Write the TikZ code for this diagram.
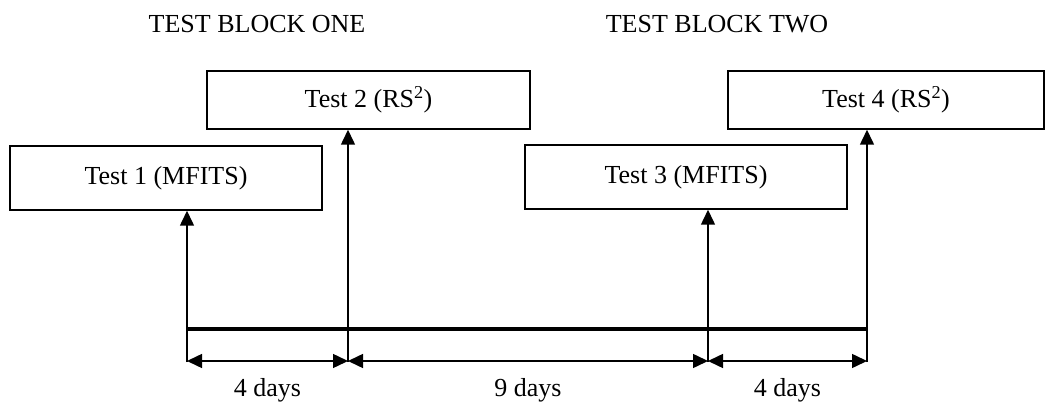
\documentclass[tikz,border=0pt]{standalone}
\usepackage{fontspec}
\setmainfont{Liberation Serif}
\usetikzlibrary{arrows.meta}
\begin{document}
\begin{tikzpicture}[x=1pt,y=1pt,
  testbox/.style={draw=black, line width=1.5pt, minimum width=#1, inner sep=0pt, font=\fontsize{26}{30}\selectfont},
  lbl/.style={font=\fontsize{26}{30}\selectfont, inner sep=0pt},
  tip/.style={-{Triangle[length=15pt,width=14pt]}, line width=1.5pt},
  dim/.style={{Triangle[length=15pt,width=14pt]}-{Triangle[length=15pt,width=14pt]}, line width=1.5pt, shorten <=0pt, shorten >=0pt}]
\useasboundingbox (0,0) rectangle (1046,407);
% headers
\node[lbl] (h1) at (257,383) {TEST BLOCK ONE};
\node[lbl] (h2) at (717,383) {TEST BLOCK TWO};
% boxes
\node[testbox=312pt, minimum height=64pt] (t1) at (166,229) {Test 1 (MFITS)};
\node[testbox=323pt, minimum height=58pt] (t2) at (368.5,307) {Test 2 (RS\textsuperscript{2})};
\node[testbox=322pt, minimum height=64pt] (t3) at (686,230) {Test 3 (MFITS)};
\node[testbox=316pt, minimum height=58pt] (t4) at (886,307) {Test 4 (RS\textsuperscript{2})};
% bottom points
\coordinate (b1) at (187,45);
\coordinate (b2) at (348,45);
\coordinate (b3) at (708,45);
\coordinate (b4) at (867,45);
% vertical arrows
\draw[tip] (b1) -- (b1 |- t1.south);
\draw[tip] (b2) -- (b2 |- t2.south);
\draw[tip] (b3) -- (b3 |- t3.south);
\draw[tip] (b4) -- (b4 |- t4.south);
% thick timeline
\coordinate (m1) at (187,78);
\coordinate (m4) at (867,78);
\draw[line width=4pt] (m1) -- (m4);
% dimension arrows
\coordinate (d1) at (187,46);
\coordinate (d2) at (348,46);
\coordinate (d3) at (708,46);
\coordinate (d4) at (867,46);
\draw[dim] (d1) -- (d2);
\draw[dim] (d2) -- (d3);
\draw[dim] (d3) -- (d4);
% labels
\node[lbl] (l1) at (267.5,17) {4 days};
\node[lbl] (l2) at (528,17) {9 days};
\node[lbl] (l3) at (787.5,17) {4 days};
\end{tikzpicture}
\end{document}
